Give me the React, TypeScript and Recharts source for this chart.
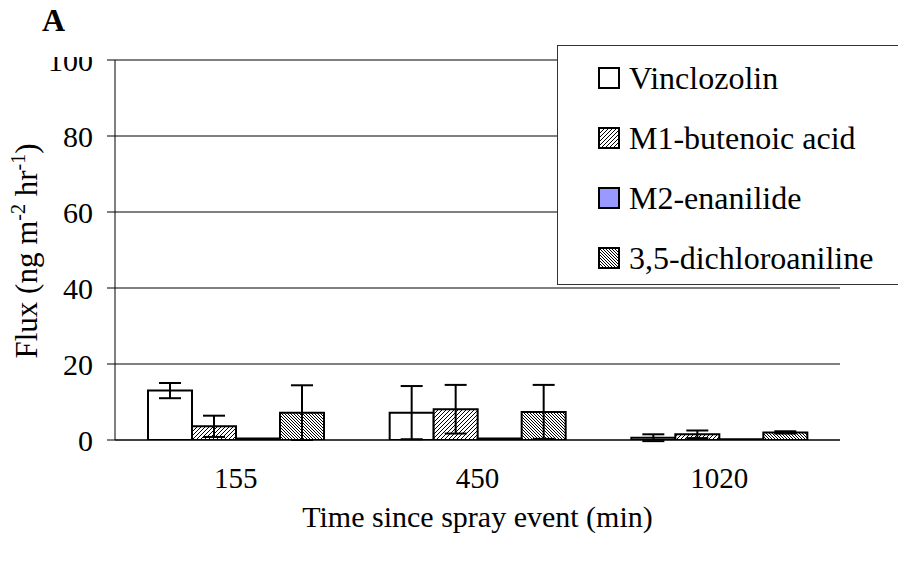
import { Bar, BarChart, CartesianGrid, ErrorBar, Legend, XAxis, YAxis } from "recharts";

const categories = ["155", "450", "1020"];
const vinclozolin = [13.0, 7.2, 0.6];
const vinclozolinErr = [2.0, 7.0, 0.9];
const butenoic = [3.6, 8.1, 1.5];
const butenoicErr = [2.8, 6.4, 1.0];
const enanilide = [0.4, 0.4, 0.2];
const enanilideErr = [0, 0, 0];
const dichloroaniline = [7.2, 7.4, 2.0];
const dichloroanilineErr = [7.2, 7.1, 0.3];
const yTicks = [0, 20, 40, 60, 80, 100];
const boundaryTicks = [0, 1, 2, 3];

const FONT = "'Liberation Serif', 'Times New Roman', serif";

const series = [
  { key: "vin", err: "vinErr", name: "Vinclozolin", fill: "#ffffff" },
  { key: "m1", err: "m1Err", name: "M1-butenoic acid", fill: "url(#hatchM1)" },
  { key: "m2", err: "m2Err", name: "M2-enanilide", fill: "#9999ff" },
  { key: "dca", err: "dcaErr", name: "3,5-dichloroaniline", fill: "url(#hatchDCA)" },
];

const data = categories.map((c, i) => ({
  cat: c,
  pos: i + 0.5,
  vin: vinclozolin[i],
  vinErr: vinclozolinErr[i],
  m1: butenoic[i],
  m1Err: butenoicErr[i],
  m2: enanilide[i],
  m2Err: enanilideErr[i],
  dca: dichloroaniline[i],
  dcaErr: dichloroanilineErr[i],
}));

function YTick(props: any) {
  const { x, y, payload } = props;
  return (
    <g clipPath={payload.value === 100 ? "url(#topClip)" : undefined}>
      <text x={x} y={y} dy="0.355em" textAnchor="end" fontSize={30} fontFamily={FONT} fill="#000">
        {payload.value}
      </text>
    </g>
  );
}

function LegendBox() {
  return (
    <div
      style={{
        width: 341,
        height: 240,
        background: "#fff",
        borderTop: "1px solid #333",
        borderLeft: "1px solid #333",
        borderBottom: "1px solid #333",
        boxSizing: "border-box",
        position: "relative",
        fontFamily: FONT,
        fontSize: 32,
        color: "#000",
      }}
    >
      {series.map((s, i) => (
        <div
          key={s.key}
          style={{ position: "absolute", left: 40, top: 13 + i * 60, height: 38, display: "flex", alignItems: "center" }}
        >
          <svg width={22} height={22} style={{ marginRight: 9 }}>
            <rect x={1} y={1} width={20} height={20} fill={s.fill} stroke="#000" strokeWidth={2} />
          </svg>
          <span style={{ lineHeight: "38px", whiteSpace: "nowrap" }}>{s.name}</span>
        </div>
      ))}
    </div>
  );
}

export default function App() {
  return (
    <div style={{ position: "absolute", left: 0, top: 0, width: 898, height: 563, overflow: "hidden", background: "#fff" }}>
      <svg width={0} height={0} style={{ position: "absolute" }}>
        <defs>
          <pattern id="hatchM1" width={4} height={4} patternUnits="userSpaceOnUse">
            <rect width={4} height={4} fill="#fff" />
            <path d="M-1,1 l2,-2 M0,4 l4,-4 M3,5 l2,-2" stroke="#000" strokeWidth={1} />
          </pattern>
          <pattern id="hatchDCA" width={3} height={3} patternUnits="userSpaceOnUse">
            <rect width={3} height={3} fill="#fff" />
            <path d="M-1,2 l2,2 M0,0 l3,3 M2,-1 l2,2" stroke="#000" strokeWidth={1} />
          </pattern>
          <clipPath id="topClip" clipPathUnits="userSpaceOnUse">
            <rect x={0} y={57} width={200} height={600} />
          </clipPath>
        </defs>
      </svg>
      <div
        style={{
          position: "absolute",
          left: 42,
          top: 2,
          fontFamily: FONT,
          fontWeight: "bold",
          fontSize: 32,
          lineHeight: "36px",
        }}
      >
        A
      </div>
      <BarChart
        width={898}
        height={563}
        data={data}
        margin={{ top: 60, right: 58, left: 0, bottom: 0 }}
        barCategoryGap={33}
        barGap={0}
      >
        <CartesianGrid vertical={false} stroke="#000" strokeWidth={1} />
        <XAxis
          xAxisId="b"
          dataKey="pos"
          type="number"
          domain={[0, 3]}
          ticks={boundaryTicks}
          tickFormatter={() => ""}
          tickSize={8}
          tickLine={{ stroke: "#000" }}
          axisLine={false}
          height={0}
        />
        <XAxis
          xAxisId="cat"
          dataKey="cat"
          height={123}
          tickSize={0}
          tickMargin={27}
          axisLine={{ stroke: "#000" }}
          tick={{ fontSize: 29, fontFamily: FONT, fill: "#000" }}
          label={{
            content: (p: any) => {
              const vb = p.viewBox;
              return (
                <text x={vb.x + vb.width / 2} y={vb.y + 87} textAnchor="middle" fontSize={30} fontFamily={FONT} fill="#000">
                  Time since spray event (min)
                </text>
              );
            },
          }}
        />
        <YAxis
          width={115}
          domain={[0, 100]}
          ticks={yTicks}
          allowDataOverflow
          tickSize={8}
          tickMargin={14}
          axisLine={{ stroke: "#000" }}
          tickLine={{ stroke: "#000" }}
          tick={<YTick />}
          label={{
            content: () => (
              <text x={37} y={251} transform="rotate(-90 37 251)" textAnchor="middle" fontSize={31} fontFamily={FONT} fill="#000">
                Flux (ng m
                <tspan dy={-12} fontSize={20}>-2</tspan>
                <tspan dy={12}> hr</tspan>
                <tspan dy={-12} fontSize={20}>-1</tspan>
                <tspan dy={12}>)</tspan>
              </text>
            ),
          }}
        />
        <Legend
          layout="vertical"
          align="center"
          verticalAlign="middle"
          wrapperStyle={{ position: "absolute", left: 557, top: 45, width: 341, height: 240 }}
          content={() => <LegendBox />}
        />
        {series.map((s) => (
          <Bar
            key={s.key}
            xAxisId="cat"
            dataKey={s.key}
            name={s.name}
            fill={s.fill}
            stroke="#000"
            strokeWidth={2}
            isAnimationActive={false}
          >
            {s.key !== "m2" && (
              <ErrorBar dataKey={s.err} width={11} stroke="#000" strokeWidth={2} direction="y" />
            )}
          </Bar>
        ))}
      </BarChart>
    </div>
  );
}
